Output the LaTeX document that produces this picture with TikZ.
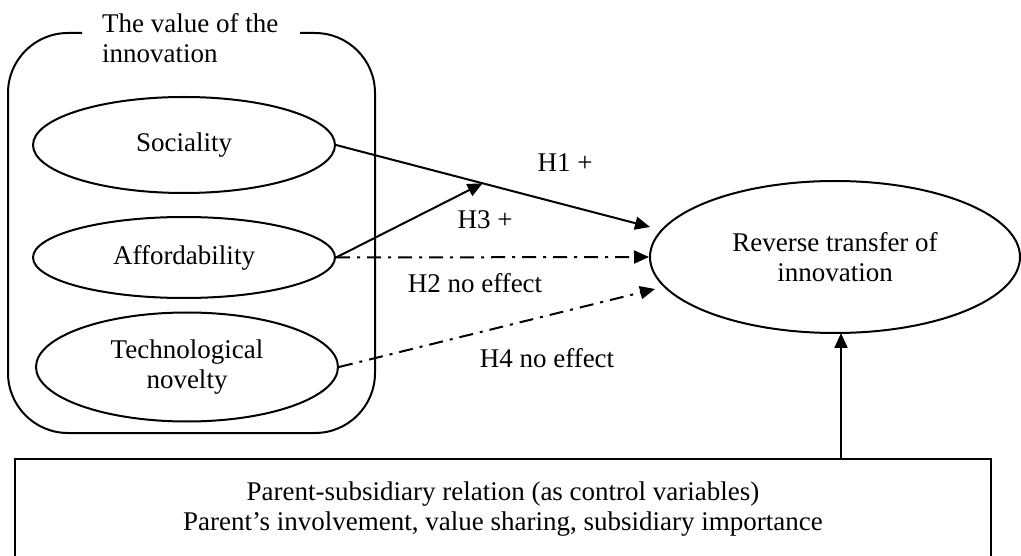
\documentclass[tikz,border=0pt]{standalone}
\usepackage{fontspec}
\setmainfont{Liberation Serif}
\usetikzlibrary{shapes.geometric,arrows.meta,calc}
\begin{document}
\begin{tikzpicture}[x=1pt,y=-1pt,
  every node/.style={font=\fontsize{27}{30}\selectfont},
  oval/.style={draw, ellipse, line width=2pt, inner sep=0pt, align=center},
  arr/.style={line width=2pt, -{Triangle[length=15pt,width=13pt]}},
  dd/.style={arr, dash pattern=on 14pt off 7pt on 3pt off 7pt},
  lbl/.style={anchor=base, inner sep=0pt}]
\useasboundingbox (0,0) rectangle (1021,556);
\draw[line width=2pt, rounded corners=60pt] (82,33) -- (8,33) -- (8,433) -- (375,433) -- (375,33) -- (300,33);
\node[anchor=north west, inner sep=0pt, align=left] (title) at (102,13) {The value of the\\innovation};
\node[oval, minimum width=302pt, minimum height=96pt] (soc) at (184,145) {Sociality};
\node[oval, minimum width=302pt, minimum height=81pt] (aff) at (184,257.5) {Affordability};
\node[oval, minimum width=302pt, minimum height=109pt] (tech) at (187,367) {Technological\\novelty};
\node[oval, minimum width=370pt, minimum height=152pt] (rev) at (835,257) {Reverse transfer of\\innovation};
\node[draw, line width=2pt, minimum width=976pt, minimum height=100pt, anchor=north west, align=center] (ctrl) at (14,458) {Parent-subsidiary relation (as control variables)\\Parent’s involvement, value sharing, subsidiary importance};
\coordinate (h1end) at (650,227);
\coordinate (h4end) at (655,289);
\coordinate (vtop) at (841,333);
\draw[arr] (soc.east) -- (h1end);
\coordinate (h3end) at ($(soc.east)!0.467!(h1end)$);
\draw[arr] (aff.east) -- (h3end);
\draw[dd] (aff.east) -- (rev.west);
\draw[dd] (tech.east) -- (h4end);
\draw[arr] (vtop |- ctrl.north) -- (vtop);
\node[lbl] (l1) at (565,172) {H1 +};
\node[lbl] (l3) at (485,229) {H3 +};
\node[lbl] (l2) at (475,293) {H2 no effect};
\node[lbl] (l4) at (547,367) {H4 no effect};
\end{tikzpicture}
\end{document}
